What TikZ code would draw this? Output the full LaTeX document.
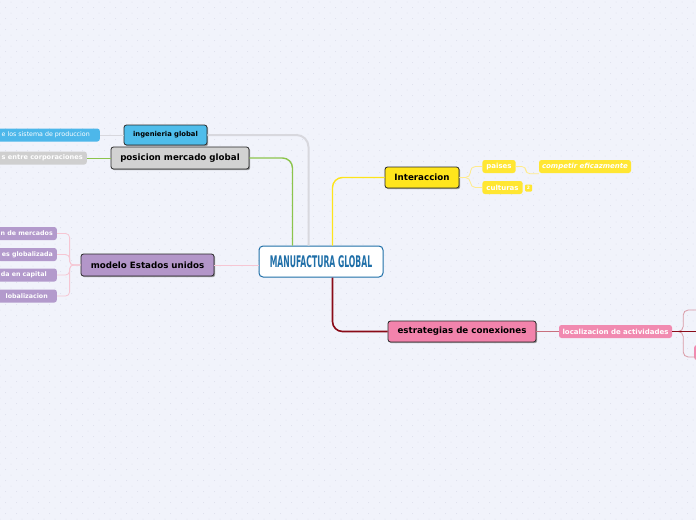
\documentclass[tikz,border=0pt]{standalone}
\usepackage{fontspec}
\setmainfont{DejaVu Sans}
\usetikzlibrary{shadows}

\definecolor{bgColor}{HTML}{F1F3FB}
\definecolor{dotColor}{HTML}{DDDFEC}
\definecolor{centerBlue}{HTML}{1F6FA8}
\definecolor{topicYellow}{HTML}{FFE51C}
\definecolor{topicGrey}{HTML}{D2D2D2}
\definecolor{topicBlue}{HTML}{4FBDEB}
\definecolor{topicPurple}{HTML}{B396C9}
\definecolor{topicPink}{HTML}{F283AC}
\definecolor{leafYellow}{HTML}{FFE632}
\definecolor{leafGrey}{HTML}{CFCFCF}
\definecolor{leafBlue}{HTML}{4DB7EA}
\definecolor{leafPurple}{HTML}{B39ACC}
\definecolor{leafPink}{HTML}{F18AB0}
\definecolor{lineGreen}{HTML}{8CC44C}
\definecolor{lineGrey}{HTML}{D8D8DE}
\definecolor{lineYellow}{HTML}{FDE41A}
\definecolor{lineSoftYellow}{HTML}{FFEB8C}
\definecolor{lineDarkRed}{HTML}{8A0B18}
\definecolor{lineRed}{HTML}{C8707E}
\definecolor{lineSoftRed}{HTML}{D99BA6}
\definecolor{linePink}{HTML}{F6C6D3}

\tikzset{
  topic/.style={draw=black!85, line width=0.8pt, rounded corners=2.5pt,
    font=\bfseries\fontsize{8.7}{10}\selectfont, inner sep=0pt,
    minimum height=21pt,
    drop shadow={shadow xshift=1.2pt, shadow yshift=-1.2pt, fill=black!60, opacity=0.6}},
  leaf/.style={rounded corners=2.5pt, text=white, inner ysep=0pt, inner xsep=4pt,
    font=\bfseries\fontsize{7}{8}\selectfont, minimum height=13pt},
  edgeleaf/.style={leaf, anchor=east, font=\bfseries\fontsize{6.3}{8}\selectfont},
}

\begin{document}
\begin{tikzpicture}[x=1pt, y=-1pt]

	% ---- Background with dots ----
	\fill[bgColor] (0,0) rectangle (696,520);
	\useasboundingbox (0,0) rectangle (696,520);
	\foreach \row in {0,...,94}
	\foreach \col in {0,...,63}
	\fill[dotColor] ({\col*11+mod(\row,2)*5.5}, {\row*5.5+2}) circle (0.5pt);

	% ---- Center node ----
	\node[draw=centerBlue, fill=white, line width=1pt, rounded corners=4pt,
	      minimum width=124pt, minimum height=31pt, inner sep=0pt, text=centerBlue]
	      (center) at (321,261.5)
	      {\scalebox{0.48}[1]{\bfseries\fontsize{16}{16}\selectfont MANUFACTURA GLOBAL}};

	% ---- Main topics ----
	\node[topic, fill=topicBlue, minimum width=83pt, minimum height=20pt,
	      font=\bfseries\fontsize{6.8}{8}\selectfont] (ingenieria) at (165.5,135) {ingenieria global};
	\node[topic, fill=topicGrey, minimum width=138pt, minimum height=22pt] (posicion) at (180,158) {posicion mercado global};
	\node[topic, fill=topicPurple, minimum width=133pt, minimum height=22pt] (modelo) at (147.5,265) {modelo Estados unidos};
	\node[topic, fill=topicYellow, minimum width=74pt] (interaccion) at (422,177.5) {Interaccion};
	\node[topic, fill=topicPink, minimum width=148pt] (estrategias) at (462,331.5) {estrategias de conexiones};

	% ---- Leaves ----
	\node[edgeleaf, fill=leafBlue, inner xsep=10pt,
	      font=\fontsize{6.3}{8}\selectfont] (sistema) at (100,135) {e los sistema de produccion};
	\node[edgeleaf, fill=leafGrey, font=\bfseries\fontsize{6.6}{8}\selectfont] (corporaciones) at (87,158) {s entre corporaciones};
	\foreach \name/\ypos/\pad/\txt in {
		A/233.5/4/n de mercados,
		B/254.5/4/es globalizada,
		C/275/10/da en capital,
		D/296/9/lobalizacion
	}
	{
		\node[edgeleaf, fill=leafPurple, inner xsep=\pad pt] (m\name) at (57,\ypos) {\txt};
	}
	\node[leaf, fill=leafYellow, minimum width=32pt] (paises) at (499,166.5) {paises};
	\node[leaf, fill=leafYellow, minimum width=39pt] (culturas) at (502.5,187.5) {culturas};
	\node[leaf, fill=leafYellow, minimum width=7pt, minimum height=7pt, inner xsep=0pt,
	      font=\bfseries\fontsize{4.5}{5}\selectfont, rounded corners=1pt] (badge) at (528.5,188) {2};
	\node[leaf, fill=leafYellow, minimum width=92pt, inner xsep=1pt,
	      font=\bfseries\itshape\fontsize{7}{8}\selectfont] (competir) at (585,166.5) {competir eficazmente};
	\node[leaf, fill=leafPink, minimum width=113pt, inner xsep=1pt] (localizacion) at (615.5,331.5) {localizacion de actividades};
	\node[leaf, fill=leafPink, anchor=west, minimum width=20pt, minimum height=15pt] (hidden) at (694,352.5) {};

	% ---- Edges from center ----
	\draw[lineGrey, line width=2pt, rounded corners=12pt] (ingenieria.east) -| ([xshift=50pt]center.north west);
	\draw[lineGreen, line width=1.4pt, rounded corners=10pt] (posicion.east) -| ([xshift=34pt]center.north west);
	\draw[lineYellow, line width=1.4pt, rounded corners=10pt] (interaccion.west) -| ([xshift=74pt]center.north west);
	\draw[lineDarkRed, line width=1.6pt, rounded corners=10pt] (estrategias.west) -| ([xshift=74pt]center.south west);
	\draw[linePink, line width=0.8pt] (modelo.east) -- (modelo.east -| center.west);

	% ---- Edges to leaves ----
	\draw[lineGrey, line width=0.8pt] (ingenieria.west) -- (sistema.east);
	\draw[lineGreen, line width=0.8pt] (posicion.west) -- (corporaciones.east);
	\foreach \name in {A,B,C,D}
	\draw[linePink, line width=0.8pt, rounded corners=4pt] (modelo.west) -- ++(-11,0) |- (m\name.east);
	\foreach \name in {paises,culturas}
	\draw[lineSoftYellow, line width=0.8pt, rounded corners=5pt] (interaccion.east) -- ++(11,0) |- (\name.west);
	\draw[lineSoftYellow, line width=0.8pt, rounded corners=4pt] (paises.east) -- ++(10,0) |- ([yshift=-0.5pt]competir.south west);
	\draw[lineRed, line width=0.8pt] (estrategias.east) -- (localizacion.west);

	% ---- Branches leaving the picture ----
	\coordinate (offA) at (700,310);
	\coordinate (offB) at (700,331.5);
	\coordinate (offC) at (700,357);
	\draw[lineSoftRed, line width=0.8pt, rounded corners=5pt] (localizacion.east) -- ++(11,0) |- (offA);
	\draw[lineSoftRed, line width=0.8pt, rounded corners=5pt] (localizacion.east) -- ++(11,0) |- (offC);
	\draw[lineDarkRed, line width=1pt] (localizacion.east) -- (offB);

\end{tikzpicture}
\end{document}
